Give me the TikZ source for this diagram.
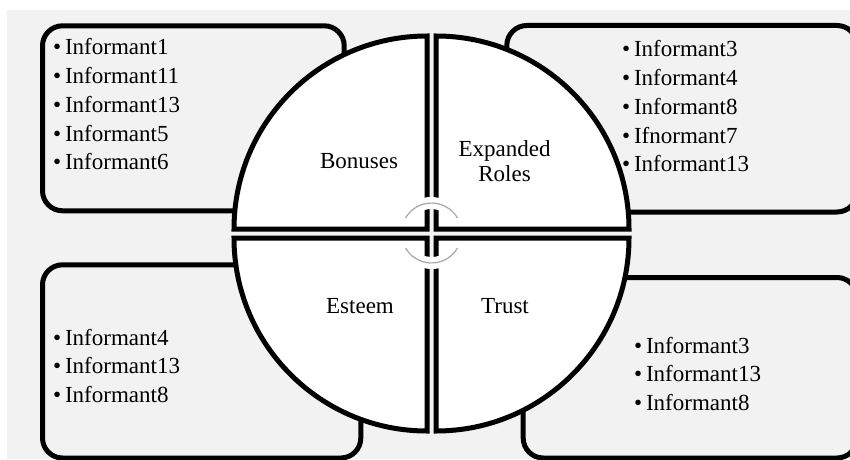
\documentclass[tikz,border=0pt]{standalone}
\usepackage{fontspec}
\setmainfont{Liberation Serif}
\begin{document}
\begin{tikzpicture}[x=1pt, y=1pt,
        listbox/.style={draw=black, line width=5pt, rounded corners=20pt},
        quadrant/.style={draw=black, fill=white, line width=5pt},
        turnarc/.style={draw=black!35, line width=1.2pt, preaction={draw=white, line width=12pt}},
        items/.style={align=left, anchor=west, inner sep=0pt, font=\fontsize{23}{28.75}\selectfont},
        quadtext/.style={align=center, inner sep=0pt, font=\fontsize{23}{24.5}\selectfont}]
        % Page and background
        \clip (0,0) rectangle (850,459);
        \fill[white] (0,0) rectangle (850,459);
        \fill[gray!10] (7,0) rectangle (850,449);
        \coordinate (Centre) at (431.5,226);

        % Boxes behind the circle
        \draw[listbox] (42.5,248.2) rectangle (344.2,433.2);
        \draw[listbox] (506.8,247) rectangle (857,433.5);
        \draw[listbox] (42.5,1) rectangle (360.8,194.2);
        \draw[listbox] (523.2,1) rectangle (857,181.5);

        % The four quadrants
        \draw[quadrant] (427,230) -- ++(-193,0) arc (180:90:193) -- cycle;
        \draw[quadrant] (436,230) -- ++(0,193) arc (90:0:193) -- cycle;
        \draw[quadrant] (427,221) -- ++(0,-193) arc (270:180:193) -- cycle;
        \draw[quadrant] (436,221) -- ++(193,0) arc (0:-90:193) -- cycle;

        % Turning arcs round the centre
        \draw[turnarc] (Centre) ++(30:30) arc (30:150:30);
        \draw[turnarc] (Centre) ++(210:30) arc (210:330:30);

        % Quadrant names
        \node[quadtext, anchor=base] (Bonuses) at (359,291) {Bonuses};
        \node[quadtext] (Roles) at (504.5,298.1) {Expanded\\Roles};
        \node[quadtext, anchor=base] (Esteem) at (360,145.7) {Esteem};
        \node[quadtext, anchor=base] (Trust) at (505,145.7) {Trust};

        % Informant lists
        \node[items] (ListBonuses) at (53,354.5) {\textbullet\,Informant1\\\textbullet\,Informant11\\\textbullet\,Informant13\\\textbullet\,Informant5\\\textbullet\,Informant6};
        \node[items] (ListRoles) at (622,352.6) {\textbullet\,Informant3\\\textbullet\,Informant4\\\textbullet\,Informant8\\\textbullet\,Ifnormant7\\\textbullet\,Informant13};
        \node[items] (ListEsteem) at (53,93.1) {\textbullet\,Informant4\\\textbullet\,Informant13\\\textbullet\,Informant8};
        \node[items] (ListTrust) at (634,85.1) {\textbullet\,Informant3\\\textbullet\,Informant13\\\textbullet\,Informant8};
    \end{tikzpicture}
\end{document}
